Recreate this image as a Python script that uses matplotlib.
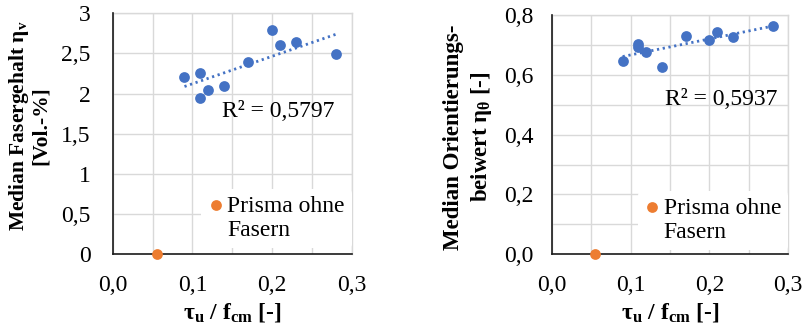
import numpy as np
import matplotlib
matplotlib.use("Agg")
import matplotlib.pyplot as plt
from matplotlib.ticker import MultipleLocator, FuncFormatter

plt.rcParams["font.family"] = ["Liberation Serif", "DejaVu Serif"]
plt.rcParams["mathtext.default"] = "regular"

# shear strength ratio tau_u / f_cm of the fibre-reinforced prisms
tau_ratio = [0.09, 0.11, 0.11, 0.12, 0.14, 0.17, 0.20, 0.21, 0.23, 0.28]
# median fibre content [Vol.-%]
fibre_content = [2.21, 2.26, 1.95, 2.04, 2.10, 2.40, 2.79, 2.61, 2.64, 2.49]
# median orientation coefficient [-]
orientation = [0.646, 0.702, 0.692, 0.677, 0.625, 0.730, 0.716, 0.742, 0.725, 0.763]

# prism without fibres
plain_x = [0.055]
plain_content = [0.0]
plain_orient = [0.0]

r2_labels = ["R² = 0,5797", "R² = 0,5937"]

BLUE = "#4472C4"
ORANGE = "#ED7D31"
GRID = "#D9D9D9"
FS = 17

fig = plt.figure(figsize=(8.08, 3.26), dpi=100)

W, H = 808.0, 326.0


def axes_px(x0, x1, ytop, ybot):
    return fig.add_axes([x0 / W, 1 - ybot / H, (x1 - x0) / W, (ybot - ytop) / H])


ax1 = axes_px(112.7, 352.0, 13.3, 254.3)
ax2 = axes_px(551.7, 788.3, 15.0, 254.3)


def comma(fmt):
    return FuncFormatter(lambda v, p: fmt.format(v).replace(".", ","))


def style(ax, ymax, ymajor, yminor, yfmt, ypad):
    ax.set_xlim(0, 0.3)
    ax.set_ylim(0, ymax)
    ax.xaxis.set_major_locator(MultipleLocator(0.1))
    ax.xaxis.set_minor_locator(MultipleLocator(0.05))
    ax.yaxis.set_major_locator(MultipleLocator(ymajor))
    ax.yaxis.set_minor_locator(MultipleLocator(yminor))
    ax.xaxis.set_major_formatter(comma("{:.1f}"))
    ax.yaxis.set_major_formatter(yfmt)
    ax.grid(True, which="both", color=GRID, lw=1.0, zorder=0)
    ax.set_axisbelow(True)
    ax.tick_params(which="both", length=0, labelsize=FS)
    ax.tick_params(axis="y", pad=ypad)
    ax.tick_params(axis="x", pad=15)
    for s in ("top", "right"):
        ax.spines[s].set_color(GRID)
        ax.spines[s].set_linewidth(1.0)
    for s in ("left", "bottom"):
        ax.spines[s].set_color("#1a1a1a")
        ax.spines[s].set_linewidth(1.2)
        ax.spines[s].set_zorder(5)


style(ax1, 3, 0.5, 0.5,
      FuncFormatter(lambda v, p: ("{:g}".format(round(v, 2))).replace(".", ",")), 16)
style(ax2, 0.8, 0.2, 0.1, comma("{:.1f}"), 13)


def panel(ax, y, plain_y, r2, r2_xy, leg_lift):
    x = np.array(tau_ratio)
    yv = np.array(y)
    ax.scatter(x, yv, s=60, color=BLUE, zorder=3, linewidths=0)
    k, d = np.polyfit(x, yv, 1)
    xs = np.array([x.min(), x.max()])
    ax.plot(xs, k * xs + d, color=BLUE, lw=2.0, linestyle=(0, (0.8, 1.3)), zorder=2)
    ax.scatter(plain_x, plain_y, s=60, color=ORANGE, zorder=6, linewidths=0,
               clip_on=False, label="Prisma ohne\nFasern")
    ax.text(r2_xy[0], r2_xy[1], r2, fontsize=FS, va="center", ha="left")
    leg = ax.legend(loc="lower right", bbox_to_anchor=(1.0, leg_lift), frameon=True,
                    fontsize=FS, borderaxespad=0.0, handletextpad=0.2,
                    handlelength=0.6, borderpad=0.3, labelspacing=0.2,
                    scatteryoffsets=[1.3])
    leg.get_frame().set_facecolor("white")
    leg.get_frame().set_edgecolor("none")
    leg.get_frame().set_alpha(1.0)
    leg.set_zorder(4)
    return leg


panel(ax1, fibre_content, plain_content, r2_labels[0], (0.137, 1.78), 6 / 241)
panel(ax2, orientation, plain_orient, r2_labels[1], (0.1437, 0.519), 4 / 239)

# axis titles
fig.text(19 / W, 1 - 126 / H, "Median Fasergehalt η$_{v}$", rotation=90,
         ha="center", va="center", fontsize=15.5, fontweight="bold")
fig.text(41 / W, 1 - 126 / H, "[Vol.-%]", rotation=90,
         ha="center", va="center", fontsize=15.5, fontweight="bold")
fig.text(453 / W, 1 - 137 / H, "Median Orientierungs-", rotation=90,
         ha="center", va="center", fontsize=16.5, fontweight="bold")
fig.text(481 / W, 1 - 137 / H, "beiwert η$_{θ}$ [-]", rotation=90,
         ha="center", va="center", fontsize=16.5, fontweight="bold")

for cx in ((112.7 + 352.0) / 2, (551.7 + 788.3) / 2):
    fig.text(cx / W, 1 - 312 / H, "τ$_{u}$ / f$_{cm}$ [-]", ha="center",
             va="center", fontsize=17, fontweight="bold")

fig.savefig("out.png", dpi=100, facecolor="white")
